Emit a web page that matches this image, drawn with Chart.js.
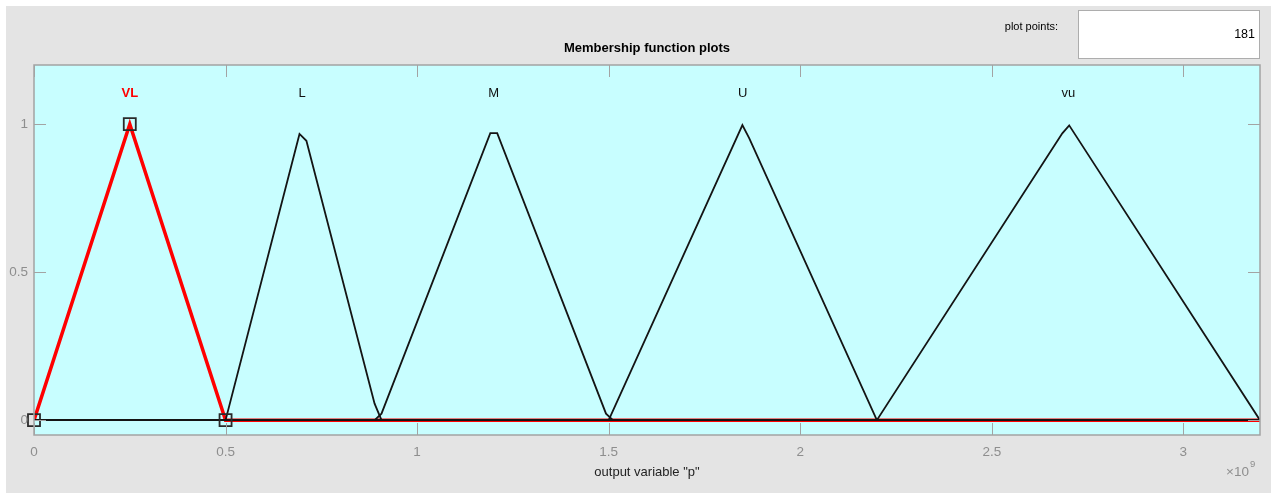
<!DOCTYPE html>
<html>
<head>
<meta charset="utf-8">
<title>Membership function plots</title>
<script src="https://cdn.jsdelivr.net/npm/chart.js@4/dist/chart.umd.min.js"></script>
<style>
  html, body { margin: 0; padding: 0; background: #fff; }
  canvas { display: block; }
</style>
</head>
<body>
<canvas id="mf" width="1273" height="493"></canvas>
<script>
// x values are in units of 1e9 (axis shows "x10^9")
const SCALE = 1e9;
const X_TICKS = [0, 0.5, 1, 1.5, 2, 2.5, 3];
const Y_TICKS = [0, 0.5, 1];
const X_TICK_LABELS = ['0', '0.5', '1', '1.5', '2', '2.5', '3'];
const Y_TICK_LABELS = ['0', '0.5', '1'];

const MF_NAMES = ['VL', 'L', 'M', 'U', 'vu'];
const MF_LABEL_X = [0.25, 0.7, 1.2, 1.85, 2.7];

// sampled curves (181 plot points), only the corners kept
const vlX = [0, 0.25, 0.5, 3.2];
const vlY = [0, 1, 0, 0];
const lX = [0, 0.5, 0.693, 0.711, 0.889, 0.907, 3.2];
const lY = [0, 0, 0.967, 0.944, 0.056, 0, 0];
const mX = [0, 0.889, 0.907, 1.191, 1.209, 1.493, 1.511, 3.2];
const mY = [0, 0, 0.022, 0.970, 0.970, 0.022, 0, 0];
const uX = [0, 1.5, 1.849, 1.867, 2.2, 3.2];
const uY = [0, 0, 0.997, 0.952, 0, 0];
const vuX = [0, 2.2, 2.684, 2.702, 3.2];
const vuY = [0, 0, 0.969, 0.996, 0];

// parameter handles of the selected function (VL)
const vlParamX = [0, 0.25, 0.5];
const vlParamY = [0, 1, 0];

const PLOT_POINTS = '181';

const pts = (xs, ys) => xs.map((x, i) => ({ x: x * SCALE, y: ys[i] }));

const FONT = '"Liberation Sans", Arial, sans-serif';
const GRAY = '#e4e4e4';
const AXIS_BG = 'rgb(200,254,255)';
const AXIS_LINE = '#a3a3a3';
const TICK_TEXT = '#8e8e8e';

const mfLine = (data) => ({
  data,
  showLine: true,
  borderColor: '#141414',
  borderWidth: 1.8,
  pointRadius: 0,
  tension: 0,
  order: 1,
});

const figurePlugin = {
  id: 'figure',
  beforeDraw(chart) {
    const { ctx, chartArea: a } = chart;
    ctx.save();
    ctx.fillStyle = '#fff';
    ctx.fillRect(0, 0, chart.width, chart.height);
    ctx.fillStyle = GRAY;
    ctx.fillRect(6, 6, 1265, 487);
    ctx.fillStyle = AXIS_BG;
    ctx.fillRect(a.left, a.top, a.right - a.left, a.bottom - a.top);

    // plot points box
    ctx.fillStyle = '#fff';
    ctx.fillRect(1078, 10, 182, 49);
    ctx.strokeStyle = '#adadad';
    ctx.lineWidth = 1;
    ctx.strokeRect(1078.5, 10.5, 181, 48);
    ctx.fillStyle = '#000';
    ctx.font = '12.5px ' + FONT;
    ctx.textAlign = 'right';
    ctx.textBaseline = 'middle';
    ctx.fillText(PLOT_POINTS, 1255, 35);
    ctx.font = '11px ' + FONT;
    ctx.fillText('plot points:', 1058, 27);

    // title
    ctx.font = 'bold 13px ' + FONT;
    ctx.textAlign = 'center';
    ctx.fillText('Membership function plots', (a.left + a.right) / 2, 48);
    ctx.restore();
  },
  afterDraw(chart) {
    const { ctx, chartArea: a, scales } = chart;
    const xs = scales.x, ys = scales.y;
    ctx.save();

    // frame and inward ticks
    ctx.strokeStyle = AXIS_LINE;
    ctx.lineWidth = 1.5;
    ctx.strokeRect(a.left, a.top, a.right - a.left, a.bottom - a.top);
    ctx.lineWidth = 1;
    ctx.beginPath();
    X_TICKS.forEach(v => {
      const px = Math.round(xs.getPixelForValue(v * SCALE)) + 0.5;
      ctx.moveTo(px, a.top); ctx.lineTo(px, a.top + 12);
      ctx.moveTo(px, a.bottom); ctx.lineTo(px, a.bottom - 12);
    });
    Y_TICKS.forEach(v => {
      const py = Math.round(ys.getPixelForValue(v)) + 0.5;
      ctx.moveTo(a.left, py); ctx.lineTo(a.left + 12, py);
      ctx.moveTo(a.right, py); ctx.lineTo(a.right - 12, py);
    });
    ctx.stroke();

    // tick labels
    ctx.fillStyle = TICK_TEXT;
    ctx.font = '13.5px ' + FONT;
    ctx.textBaseline = 'middle';
    ctx.textAlign = 'center';
    X_TICKS.forEach((v, i) => {
      ctx.fillText(X_TICK_LABELS[i], xs.getPixelForValue(v * SCALE), a.bottom + 17);
    });
    ctx.textAlign = 'right';
    Y_TICKS.forEach((v, i) => {
      ctx.fillText(Y_TICK_LABELS[i], a.left - 6, ys.getPixelForValue(v));
    });

    // exponent
    ctx.textAlign = 'left';
    ctx.fillText('\u00d710', 1226, 472);
    ctx.font = '9.5px ' + FONT;
    ctx.fillText('9', 1250, 464);

    // axis title
    ctx.fillStyle = '#222';
    ctx.font = '13px ' + FONT;
    ctx.textAlign = 'center';
    ctx.fillText('output variable "p"', (a.left + a.right) / 2, 472);

    // function names above each peak
    MF_NAMES.forEach((name, i) => {
      const sel = i === 0;
      ctx.fillStyle = sel ? '#ff0000' : '#111';
      ctx.font = (sel ? 'bold ' : '') + '13px ' + FONT;
      ctx.fillText(name, xs.getPixelForValue(MF_LABEL_X[i] * SCALE), ys.getPixelForValue(1.105));
    });
    ctx.restore();
  }
};

new Chart(document.getElementById('mf'), {
  type: 'scatter',
  data: {
    datasets: [
      {
        data: pts(vlParamX, vlParamY),
        showLine: false,
        pointStyle: 'rect',
        pointRadius: 8.5,
        pointBorderWidth: 1.8,
        pointBorderColor: '#2a2a2a',
        pointBackgroundColor: 'rgba(0,0,0,0)',
        clip: false,
        order: 0,
      },
      mfLine(pts(lX, lY)),
      mfLine(pts(mX, mY)),
      mfLine(pts(uX, uY)),
      mfLine(pts(vuX, vuY)),
      {
        data: pts(vlX, vlY),
        showLine: true,
        borderColor: '#ff0000',
        borderWidth: 3.5,
        pointRadius: 0,
        tension: 0,
        order: 5,
      },
    ]
  },
  options: {
    responsive: false,
    animation: false,
    events: [],
    layout: { padding: { left: 34, right: 13, top: 65, bottom: 58 } },
    plugins: { legend: { display: false }, tooltip: { enabled: false } },
    scales: {
      x: { type: 'linear', min: 0, max: 3.2 * SCALE, display: false },
      y: { type: 'linear', min: -0.05, max: 1.2, display: false }
    }
  },
  plugins: [figurePlugin]
});
</script>
</body>
</html>
